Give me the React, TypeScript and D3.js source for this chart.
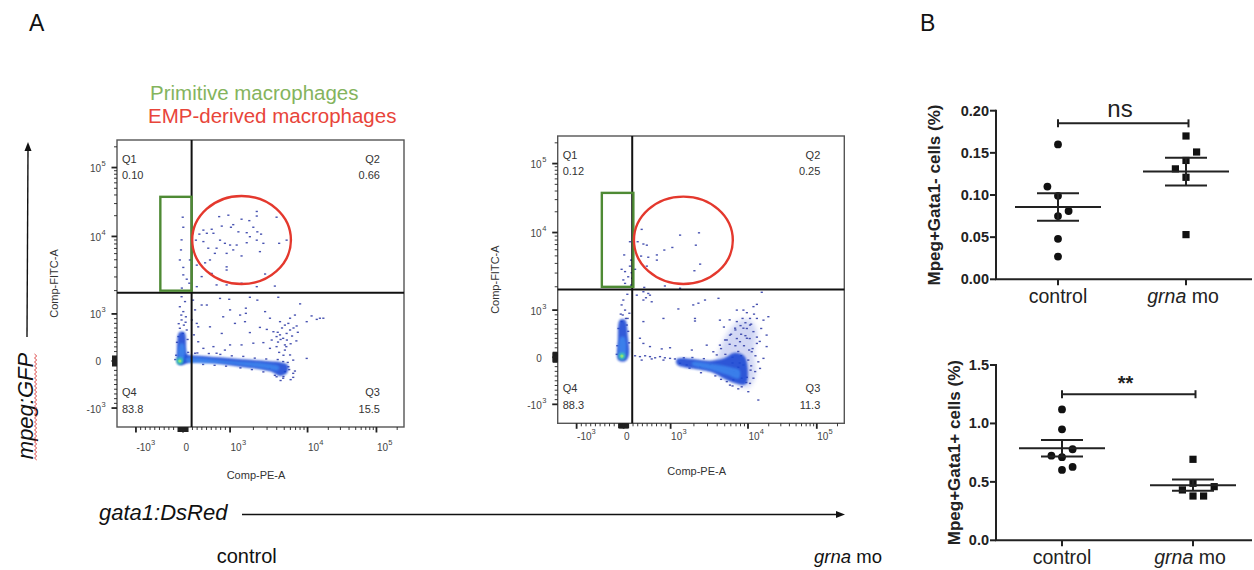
import React from "react";
import * as d3 from "d3";

const W = 1254;
const H = 570;
const SANS = "'Liberation Sans', Arial, Helvetica, sans-serif";

// ---------------- Panel A : flow cytometry (FlowJo display channels 0–100, biexponential) ----------------
const biexLinearValues = [-1000, 1000];
const biexLinearChannels = [6.6, 39.4];
const biexLogValues = [1000, 10000, 100000];
const biexLogChannels = [39.4, 66.4, 90.4];
const majorTickValues = [-1000, 0, 1000, 10000, 100000];
const majorTickBase = ["-10", "0", "10", "10", "10"];
const majorTickExp = ["3", "", "3", "4", "5"];
const quadrantNames = ["Q1", "Q2", "Q3", "Q4"];
const controlQuadrantPct = ["0.10", "0.66", "15.5", "83.8"];
const grnaQuadrantPct = ["0.12", "0.25", "11.3", "88.3"];

// gates in channel units
const controlQuadGate = [26.0, 46.8];
const controlRectGate = [15.1, 47.5, 26.0, 80.2];
const controlEllipseGate = [26.2, 49.8, 60.6, 80.5];
const grnaQuadGate = [26.0, 46.6];
const grnaRectGate = [15.4, 47.5, 26.4, 80.2];
const grnaEllipseGate = [26.6, 48.5, 61.1, 78.9];

// sparse events (channel x, channel y)
const controlEvents: number[][] = [
  [22.9, 73.1], [23.1, 69.6], [22.5, 65.2], [22.3, 61.7], [21.9, 58.2], [23.1, 55.6], [23.1, 53.0], [24.3, 51.5], [25.2, 50.1], [25.4, 58.2],
  [35.6, 73.3], [38.8, 73.8], [48.7, 75.1], [48.7, 73.5], [43.4, 72.4], [46.1, 71.9], [40.5, 70.5], [39.7, 69.6], [36.5, 70.0], [33.0, 68.9],
  [30.1, 68.6], [28.7, 67.2], [31.3, 67.5], [33.6, 67.5], [42.3, 68.0], [45.2, 67.7], [47.5, 69.6], [48.9, 68.0], [50.2, 67.2], [46.3, 66.3],
  [48.7, 65.1], [51.0, 64.0], [55.6, 73.1], [56.5, 64.0], [59.1, 65.1], [27.5, 65.1], [30.1, 64.6], [35.9, 65.1], [37.6, 64.0], [39.4, 63.4],
  [41.7, 63.4], [45.2, 64.2], [34.7, 62.3], [31.8, 62.3], [34.1, 60.5], [38.2, 60.5], [40.5, 61.7], [43.4, 59.6], [49.8, 61.1], [32.4, 58.2],
  [30.7, 57.2], [27.8, 56.4], [38.2, 55.8], [38.2, 54.7], [33.0, 53.5], [29.5, 52.4], [34.7, 49.5], [38.2, 49.5], [43.4, 50.1], [48.7, 48.9],
  [51.6, 53.3], [55.0, 49.1], [27.8, 48.9],
  [35.9, 44.8], [39.1, 44.5], [46.3, 45.2], [48.9, 44.2], [56.2, 45.2], [29.5, 42.5], [31.3, 42.5], [39.4, 40.8], [44.9, 41.4], [44.9, 39.6],
  [42.9, 39.0], [37.0, 38.4], [41.1, 36.1], [44.6, 36.7], [51.6, 40.2], [53.3, 37.9], [56.8, 36.7], [63.8, 42.9], [62.0, 39.0], [60.3, 37.9],
  [59.7, 36.1], [62.6, 35.2], [66.1, 36.7], [69.6, 37.5], [71.9, 37.9], [32.4, 34.9], [27.8, 36.1], [36.5, 32.6], [46.3, 32.9], [49.8, 34.7],
  [52.2, 34.0], [54.5, 33.2], [55.6, 31.5], [56.8, 32.1], [57.9, 30.9], [59.1, 32.6], [53.9, 30.3], [51.0, 29.4], [47.5, 29.2], [43.4, 28.6],
  [39.4, 28.6], [33.6, 28.0], [30.1, 27.4], [28.3, 29.7], [27.2, 25.7], [34.7, 25.7], [37.6, 26.8], [53.3, 27.4], [55.6, 28.0], [58.5, 26.8],
  [60.3, 25.1], [61.4, 23.3], [66.1, 23.9], [57.9, 22.8], [59.7, 21.0], [58.5, 19.3], [55.6, 17.5], [57.9, 17.0], [61.4, 18.7], [61.4, 17.3],
  [53.3, 20.5], [70.7, 37.9], [67.8, 38.7], [57.5, 34.5], [59.2, 30.3], [60.3, 33.8], [56.1, 29.6], [61.0, 31.7], [58.5, 28.6],
  [26.5, 44.2], [27.2, 40.8], [26.1, 37.3], [26.8, 32.1],
  [22.5, 45.4], [23.7, 43.7], [21.9, 41.9], [23.1, 40.2], [24.0, 38.4], [22.5, 37.3], [23.3, 35.5], [21.9, 34.4], [24.3, 33.8], [22.9, 32.6],
  [21.4, 31.5], [28.3, 34.9], [22.6, 48.4],
  [28, 25.8], [32, 25.6], [36, 25.3], [40, 24.8], [44, 24.6], [48, 24.0], [52, 23.7], [30, 21.8], [34, 21.5], [38, 21.2],
  [43, 20.6], [47, 20.0], [51, 19.2], [55, 18.0], [58, 17.6], [60, 20.0], [59.5, 22.5], [56, 23.5], [62, 19.5], [60.5, 16.5],
  [57, 16.2], [20.6, 25], [24.8, 26], [20.9, 29.5], [24.6, 30.5], [21.5, 36], [23.9, 36.5], [22.4, 39], [20.3, 23.5],
  [56.5, 26], [58, 25], [59, 28], [57, 30.5], [60.5, 29], [58.5, 35.5], [61.5, 34.5], [62.5, 30], [63, 33], [56, 33],
];
const grnaEvents: number[][] = [
  [29.3, 67.5], [42.7, 65.5], [49.3, 66.3], [48.2, 62.0], [29.9, 62.4], [31.1, 62.0], [40.0, 61.2], [37.2, 60.3], [34.6, 58.6], [31.6, 57.8],
  [34.6, 56.8], [29.1, 58.2], [49.7, 55.4], [47.7, 53.1], [31.1, 54.7], [37.4, 47.8], [42.7, 47.0], [30.2, 47.3], [27.9, 63.2],
  [25.2, 63.2], [23.2, 58.6], [25.6, 56.8], [22.3, 53.6], [23.5, 52.8], [25.2, 54.7], [25.8, 52.4], [24.6, 51.0], [22.9, 49.9], [26.0, 50.5],
  [23.5, 48.7], [25.6, 48.1], [27.0, 53.6],
  [22.9, 42.9], [22.3, 41.2], [23.5, 39.4], [22.7, 37.7], [23.8, 36.5], [22.3, 35.4], [24.1, 34.2], [24.3, 44.9], [25.0, 38.3],
  [27.0, 23.5], [28.7, 23.2], [30.5, 23.5], [32.2, 23.2], [34.0, 22.8], [35.7, 23.2], [37.4, 22.8], [39.2, 22.6], [40.9, 22.4], [29.3, 22.0],
  [32.8, 22.4], [36.9, 22.0],
  [27.6, 44.6], [29.9, 42.9], [30.8, 43.7], [32.2, 44.6], [32.8, 42.3], [29.9, 35.4], [28.7, 29.6], [29.9, 27.8], [32.2, 26.7], [36.3, 25.9],
  [39.2, 26.3], [36.9, 36.5], [42.1, 39.8], [47.9, 36.5], [47.9, 35.6], [51.4, 42.9], [56.1, 43.5], [47.3, 41.2], [52.0, 27.2], [46.8, 25.5],
  [54.3, 24.9], [56.6, 35.9], [62.5, 39.4], [64.8, 39.4], [68.3, 40.6], [69.5, 41.4], [71.2, 45.6], [67.1, 36.5], [69.5, 36.5], [71.8, 35.9],
  [73.5, 37.1], [72.9, 30.7], [72.9, 26.7], [71.8, 22.6], [70.6, 19.1], [68.3, 15.7], [67.1, 13.9], [64.2, 12.7], [70.0, 8.1], [61.9, 33.1],
  [60.1, 30.7], [58.4, 29.0], [64.8, 33.1], [66.0, 29.6], [68.3, 31.9], [69.5, 27.8], [67.7, 24.9], [70.0, 21.4], [68.9, 18.0], [64.2, 15.7],
  [61.3, 15.1], [62.5, 35.4], [67.1, 34.2], [63.6, 28.4], [56.6, 27.2], [55.5, 23.8], [53.2, 20.3], [49.7, 19.7], [45.0, 20.3], [42.7, 20.9],
  [59.0, 14.5], [60.1, 13.3], [66.5, 11.0], [29.9, 45.8], [31.6, 45.2], [49.1, 41.8],
  [20.8, 27], [24.9, 28], [21.2, 33], [24.6, 32], [22.0, 38], [24.4, 36.5], [20.6, 24],
  [44, 22.8], [47, 22.9], [51, 22.5], [46, 19.2], [50, 17.6], [55, 16.5], [57, 15.3], [61, 13.0], [63, 12.0],
  [57, 26], [58.5, 24], [60, 27.5], [61, 23], [62.5, 29.5], [63, 25], [64, 31], [65, 27], [66, 33], [67, 29.5],
  [66.5, 22], [68, 26], [63.5, 21], [62, 32.5], [65.5, 35], [67.5, 34.5], [64.5, 36.5], [60.5, 31], [59, 29], [61.5, 18],
  [63, 19.5], [66, 16], [67.5, 20], [69, 23.5], [70.5, 28.5], [71, 33], [68.5, 38], [66, 38.5], [58, 33.5], [60, 36],
  [64, 23.5], [65.5, 30.5], [62, 27], [66.8, 25.5], [64.8, 20.3], [69.5, 30], [61, 21], [63.8, 34], [67.3, 18.5], [65.8, 14.2],
];

// dense populations (density outlines, channel units)
const controlDenseOuter: number[][][] = [
  [[21.7, 33], [23.5, 33], [24.1, 27], [24.3, 23], [21.3, 21.9], [20.9, 27]],
  [[21.9, 25.0], [26.6, 24.9], [41.7, 23.8], [53.3, 22.9], [57.1, 22.6], [59.5, 21.6], [59.2, 18.8], [56.8, 17.8], [53.3, 19.4], [41.7, 21.2], [26.6, 22.7], [21.9, 21.7]],
];
const controlDenseCore: number[][][] = [
  [[21.9, 29], [23.2, 29], [23.5, 24], [22.3, 22.6], [21.4, 24]],
  [[24, 24.0], [40, 23.0], [52, 22.1], [56.5, 21.0], [56, 19.7], [52, 20.3], [40, 21.9], [24, 22.9]],
];
const controlHotspot = [21.9, 23.0];
const grnaDenseOuter: number[][][] = [
  [[21.7, 36], [23.5, 36], [24.5, 30], [24.8, 23.5], [23.5, 21.6], [21.1, 22], [21.0, 29]],
  [[41.6, 22.4], [53.2, 21.8], [58, 22.6], [61.5, 24.5], [65, 23.5], [66.3, 19], [65.5, 13.6], [60, 14.6], [53.2, 17.9], [41.6, 20.5]],
];
const grnaDenseCloud: number[][][] = [
  [[56, 24], [59, 31], [63, 35.5], [67, 36], [69.5, 32], [68.5, 25], [69, 17], [66.5, 12.5], [62, 13.5], [58, 17], [55, 20]],
];
const grnaDenseCore: number[][][] = [
  [[21.9, 30], [23.3, 30], [23.7, 24], [22.5, 22.4], [21.4, 23.5]],
  [[47, 21.2], [54, 20.6], [60, 19.6], [63.5, 18.4], [63.2, 15.6], [59, 16.9], [53, 18.7], [47, 20.3]],
];
const grnaHotspot = [22.4, 23.4];

// ---------------- Panel B : dot plots ----------------
const groups = ["control", "grna mo"];
const negControl = [0.160, 0.110, 0.099, 0.081, 0.075, 0.048, 0.027];
const negControlSlot = [0, -1, 0, 1, 0, 0, 0];
const negGrna = [0.170, 0.151, 0.141, 0.131, 0.121, 0.053];
const negGrnaSlot = [0, 1, 0, -1, 0, 0];
const posControl = [1.12, 0.95, 0.779, 0.724, 0.711, 0.628, 0.602];
const posControlSlot = [0, 0, 1, -1, 0, 1, 0];
const posGrna = [0.693, 0.488, 0.459, 0.431, 0.379, 0.379];
const posGrnaSlot = [0, 0, 2, -1, 0, 1];
const negTicks = [0, 0.05, 0.1, 0.15, 0.2];
const posTicks = [0, 0.5, 1.0, 1.5];

// ---------- scales ----------
const linPart = d3.scaleLinear().domain(biexLinearValues).range(biexLinearChannels);
const logPart = d3.scaleLog().domain(biexLogValues).range(biexLogChannels);
const biex = (v: number) => (v <= 1000 ? linPart(v) : logPart(v));

const minorTickValues: number[] = [];
for (const n of [1, 2]) for (let k = 1; k <= 9; k++) minorTickValues.push(k * 10 ** n, -k * 10 ** n);
for (const n of [3, 4]) for (let k = 2; k <= 9; k++) minorTickValues.push(k * 10 ** n);
minorTickValues.push(200000);

type Frame = { x: number; y: number; w: number; h: number };

function FlowPlot(props: {
  id: string; frame: Frame; events: number[][]; outer: number[][][]; cloud: number[][][]; core: number[][][];
  hotspot: number[]; quad: number[]; rect: number[]; ellipse: number[]; pcts: string[]; tickLabelDy: number;
}) {
  const { id, frame, events, outer, cloud, core, hotspot, quad, rect, ellipse, pcts, tickLabelDy } = props;
  const xs = d3.scaleLinear().domain([0, 100]).range([frame.x, frame.x + frame.w]);
  const ys = d3.scaleLinear().domain([0, 100]).range([frame.y + frame.h, frame.y]);
  const shape = d3.line<number[]>().x((d) => xs(d[0])).y((d) => ys(d[1])).curve(d3.curveCatmullRomClosed.alpha(0.5));
  const bottom = frame.y + frame.h;
  const left = frame.x;
  const ex0 = xs(ellipse[0]), ex1 = xs(ellipse[2]), ey0 = ys(ellipse[3]), ey1 = ys(ellipse[1]);
  return (
    <g>
      <defs>
        <clipPath id={`clip-${id}`}>
          <rect x={frame.x} y={frame.y} width={frame.w} height={frame.h} />
        </clipPath>
        <filter id={`soft-${id}`} x="-20%" y="-20%" width="140%" height="140%">
          <feGaussianBlur stdDeviation="0.9" />
        </filter>
        <filter id={`haze-${id}`} x="-20%" y="-20%" width="140%" height="140%">
          <feGaussianBlur stdDeviation="2.5" />
        </filter>
      </defs>
      <g clipPath={`url(#clip-${id})`}>
        {cloud.map((p, i) => (
          <path key={`c${i}`} d={shape(p) || ""} fill="#3550d0" opacity={0.22} filter={`url(#haze-${id})`} />
        ))}
        {events.map((d, i) => (
          <rect key={i} x={xs(d[0]) - 1.1} y={ys(d[1]) - 0.7} width={2.2} height={1.4} fill="#3440a8" opacity={0.9} />
        ))}
        {outer.map((p, i) => (
          <path key={`o${i}`} d={shape(p) || ""} fill="#1f48d4" opacity={0.9} filter={`url(#soft-${id})`} />
        ))}
        {core.map((p, i) => (
          <path key={`k${i}`} d={shape(p) || ""} fill="#3d86ee" opacity={0.85} filter={`url(#soft-${id})`} />
        ))}
        <circle cx={xs(hotspot[0])} cy={ys(hotspot[1])} r={3.4} fill="#3ec9b0" filter={`url(#soft-${id})`} />
        <circle cx={xs(hotspot[0])} cy={ys(hotspot[1])} r={1.6} fill="#8fe07a" />
      </g>
      <rect x={frame.x} y={frame.y} width={frame.w} height={frame.h} fill="none" stroke="#555" strokeWidth={1.4} />
      {/* quadrant gate */}
      <line x1={xs(quad[0])} x2={xs(quad[0])} y1={frame.y} y2={bottom} stroke="#111" strokeWidth={2} />
      <line x1={frame.x} x2={frame.x + frame.w} y1={ys(quad[1])} y2={ys(quad[1])} stroke="#111" strokeWidth={2} />
      {/* population gates */}
      <rect x={xs(rect[0])} y={ys(rect[3])} width={xs(rect[2]) - xs(rect[0])} height={ys(rect[1]) - ys(rect[3])}
        fill="none" stroke="#4e8a34" strokeWidth={2.4} />
      <ellipse cx={(ex0 + ex1) / 2} cy={(ey0 + ey1) / 2} rx={(ex1 - ex0) / 2} ry={(ey1 - ey0) / 2}
        fill="none" stroke="#e4382d" strokeWidth={2.4} />
      {/* ticks */}
      {minorTickValues.map((v, i) => {
        const cx = xs(biex(v)), cy = ys(biex(v));
        const near = Math.abs(v) <= 100;
        const len = near ? 5 : 3;
        const sw = near ? 1.6 : 0.9;
        return (
          <g key={`m${i}`} stroke="#222" strokeWidth={sw}>
            <line x1={cx} x2={cx} y1={bottom} y2={bottom + len} />
            <line x1={left} x2={left - len} y1={cy} y2={cy} />
          </g>
        );
      })}
      {majorTickValues.map((v, i) => {
        const cx = xs(biex(v)), cy = ys(biex(v));
        return (
          <g key={`M${i}`}>
            <line x1={cx} x2={cx} y1={bottom} y2={bottom + 5.5} stroke="#222" strokeWidth={1.8} />
            <line x1={left} x2={left - 5.5} y1={cy} y2={cy} stroke="#222" strokeWidth={1.8} />
            <text x={cx + 0.5} y={bottom + tickLabelDy} fontFamily={SANS} fontSize={10} fill="#444">
              {majorTickBase[i]}
            </text>
            {majorTickExp[i] && (
              <text x={cx + 0.5 + (majorTickBase[i] === "-10" ? 14.5 : 11.3)} y={bottom + tickLabelDy - 6.5}
                fontFamily={SANS} fontSize={7.5} fill="#444">{majorTickExp[i]}</text>
            )}
            <text x={left - 16} y={cy + 4.5} textAnchor="end" fontFamily={SANS} fontSize={10} fill="#444">
              {majorTickBase[i]}
            </text>
            {majorTickExp[i] && (
              <text x={left - 15.5} y={cy - 1.5} fontFamily={SANS} fontSize={7.5} fill="#444">{majorTickExp[i]}</text>
            )}
          </g>
        );
      })}
      {/* quadrant labels */}
      <g fontFamily={SANS} fontSize={11} fill="#333">
        <text x={frame.x + 5} y={frame.y + 22.5}>{quadrantNames[0]}</text>
        <text x={frame.x + 5} y={frame.y + 39}>{pcts[0]}</text>
        <text x={frame.x + frame.w - 24} y={frame.y + 22.5} textAnchor="end">{quadrantNames[1]}</text>
        <text x={frame.x + frame.w - 24} y={frame.y + 39} textAnchor="end">{pcts[1]}</text>
        <text x={frame.x + frame.w - 24} y={bottom - 31.5} textAnchor="end">{quadrantNames[2]}</text>
        <text x={frame.x + frame.w - 24} y={bottom - 14} textAnchor="end">{pcts[2]}</text>
        <text x={frame.x + 5} y={bottom - 31.5}>{quadrantNames[3]}</text>
        <text x={frame.x + 5} y={bottom - 14}>{pcts[3]}</text>
      </g>
      <text x={frame.x + 139} y={bottom + 52} textAnchor="middle" fontFamily={SANS} fontSize={11} fill="#333">Comp-PE-A</text>
      <text transform={`translate(${frame.x - 59},${frame.y + frame.h / 2}) rotate(-90)`} textAnchor="middle"
        fontFamily={SANS} fontSize={11} fill="#333">Comp-FITC-A</text>
    </g>
  );
}

function DotPlot(props: {
  yDomain: number[]; yRange: number[]; xRange: number[]; ticks: number[]; fmt: string;
  ctrl: number[]; ctrlSlot: number[]; grna: number[]; grnaSlot: number[]; title: string; titleX: number;
  bracket: number; sig: string; sigSize: number; sigBold: boolean; sigDy: number; catBaseline: number;
}) {
  const p = props;
  const y = d3.scaleLinear().domain(p.yDomain).range(p.yRange);
  const x = d3.scalePoint<string>().domain(groups).range(p.xRange);
  const axisX = 996;
  const slotW = 10.6;
  const y0 = y(0);
  const f = d3.format(p.fmt);
  const series = [
    { g: groups[0], v: p.ctrl, s: p.ctrlSlot, sq: false },
    { g: groups[1], v: p.grna, s: p.grnaSlot, sq: true },
  ];
  return (
    <g>
      {series.map((sr, si) => {
        const cx = x(sr.g) as number;
        const m = d3.mean(sr.v) as number;
        const sem = (d3.deviation(sr.v) as number) / Math.sqrt(sr.v.length);
        return (
          <g key={si}>
            {sr.v.map((v, i) => {
              const px = cx + sr.s[i] * slotW;
              return sr.sq ? (
                <rect key={i} x={px - 3.6} y={y(v) - 3.6} width={7.2} height={7.2} fill="#111" />
              ) : (
                <circle key={i} cx={px} cy={y(v)} r={3.9} fill="#111" />
              );
            })}
            <g stroke="#222" strokeWidth={2}>
              <line x1={cx - 43} x2={cx + 43} y1={y(m)} y2={y(m)} />
              <line x1={cx - 21} x2={cx + 21} y1={y(m + sem)} y2={y(m + sem)} />
              <line x1={cx - 21} x2={cx + 21} y1={y(m - sem)} y2={y(m - sem)} />
              <line x1={cx} x2={cx} y1={y(m + sem)} y2={y(m - sem)} />
            </g>
          </g>
        );
      })}
      <g stroke="#222" strokeWidth={2} fill="none">
        <line x1={axisX} x2={axisX} y1={y(p.yDomain[1]) - 1} y2={y0} />
        <line x1={axisX - 1} x2={1252} y1={y0} y2={y0} />
        {p.ticks.map((t) => (
          <line key={t} x1={axisX - 6} x2={axisX} y1={y(t)} y2={y(t)} />
        ))}
        {groups.map((g) => (
          <line key={g} x1={x(g)} x2={x(g)} y1={y0} y2={y0 + 6} />
        ))}
        <line x1={x(groups[0])} x2={(x(groups[1]) as number) + 2.5} y1={y(p.bracket)} y2={y(p.bracket)} />
        <line x1={x(groups[0])} x2={x(groups[0])} y1={y(p.bracket) - 4} y2={y(p.bracket) + 4} />
        <line x1={(x(groups[1]) as number) + 2.5} x2={(x(groups[1]) as number) + 2.5} y1={y(p.bracket) - 4} y2={y(p.bracket) + 4} />
      </g>
      {p.ticks.map((t) => (
        <text key={t} x={axisX - 7} y={y(t) + 5} textAnchor="end" fontFamily={SANS} fontWeight="bold" fontSize={14.5} fill="#222">
          {f(t)}
        </text>
      ))}
      <text x={((x(groups[0]) as number) + (x(groups[1]) as number)) / 2 - 2} y={y(p.bracket) + p.sigDy} textAnchor="middle"
        fontFamily={SANS} fontSize={p.sigSize} fontWeight={p.sigBold ? "bold" : "normal"} fill="#222">{p.sig}</text>
      <text transform={`translate(${p.titleX},${(p.yRange[0] + p.yRange[1]) / 2 + 0}) rotate(-90)`} textAnchor="middle"
        fontFamily={SANS} fontWeight="bold" fontSize={17} fill="#222">{p.title}</text>
      <text x={x(groups[0])} y={p.catBaseline} textAnchor="middle" fontFamily={SANS} fontSize={19.5} fill="#222">control</text>
      <text x={(x(groups[1]) as number) - 3} y={p.catBaseline} textAnchor="middle" fontFamily={SANS} fontSize={19.5} fill="#222">
        <tspan fontStyle="italic">grna</tspan>{" mo"}
      </text>
    </g>
  );
}

function squiggle(x: number, y0: number, y1: number): string {
  const pts: [number, number][] = [];
  let k = 0;
  for (let yy = y0; yy <= y1; yy += 2, k++) pts.push([k % 2 === 0 ? x : x + 2.2, yy]);
  return d3.line()(pts) || "";
}

export default function App() {
  const leftFrame: Frame = { x: 117, y: 140, w: 287, h: 287 };
  const rightFrame: Frame = { x: 557.7, y: 136, w: 286.6, h: 287.3 };
  return (
    <svg width={W} height={H} viewBox={`0 0 ${W} ${H}`} style={{ position: "absolute", left: 0, top: 0, background: "#fff" }}>
      <rect width={W} height={H} fill="#fff" />
      <text x={29} y={31} fontFamily={SANS} fontSize={23} fill="#111">A</text>
      <text x={920} y={31} fontFamily={SANS} fontSize={23} fill="#111">B</text>

      <text x={150} y={99.5} fontFamily={SANS} fontSize={20.5} fill="#84b45d">Primitive macrophages</text>
      <text x={148} y={122.5} fontFamily={SANS} fontSize={20.5} fill="#e8453a">EMP-derived macrophages</text>

      {/* vertical arrow + mpeg:GFP */}
      <line x1={28} x2={27} y1={150} y2={337} stroke="#111" strokeWidth={1.4} />
      <path d="M28,142 L24.5,151 L31.5,151 Z" fill="#111" />
      <text transform="translate(33,406) rotate(-90)" textAnchor="middle" fontFamily={SANS} fontStyle="italic" fontSize={22} fill="#111">
        mpeg:GFP
      </text>
      <path d={squiggle(34.5, 354, 460)} fill="none" stroke="#d83030" strokeWidth={0.9} />

      {/* horizontal arrow + gata1:DsRed */}
      <text x={99} y={520} fontFamily={SANS} fontStyle="italic" fontSize={22} fill="#111">gata1:DsRed</text>
      <line x1={242} x2={836} y1={514.5} y2={514.5} stroke="#111" strokeWidth={1.4} />
      <path d="M845,514.5 L836,511 L836,518 Z" fill="#111" />

      <FlowPlot id="ctl" frame={leftFrame} events={controlEvents} outer={controlDenseOuter} cloud={[]} core={controlDenseCore}
        hotspot={controlHotspot} quad={controlQuadGate} rect={controlRectGate} ellipse={controlEllipseGate}
        pcts={controlQuadrantPct} tickLabelDy={24} />
      <FlowPlot id="grn" frame={rightFrame} events={grnaEvents} outer={grnaDenseOuter} cloud={grnaDenseCloud} core={grnaDenseCore}
        hotspot={grnaHotspot} quad={grnaQuadGate} rect={grnaRectGate} ellipse={grnaEllipseGate}
        pcts={grnaQuadrantPct} tickLabelDy={17} />

      <text x={246.7} y={563} textAnchor="middle" fontFamily={SANS} fontSize={20} fill="#111">control</text>
      <text x={848} y={563} textAnchor="middle" fontFamily={SANS} fontSize={18.5} fill="#111">
        <tspan fontStyle="italic">grna</tspan>{" mo"}
      </text>

      <DotPlot yDomain={[0, 0.2]} yRange={[279.3, 110.7]} xRange={[1058, 1186]} ticks={negTicks} fmt=".2f"
        ctrl={negControl} ctrlSlot={negControlSlot} grna={negGrna} grnaSlot={negGrnaSlot}
        title="Mpeg+Gata1- cells (%)" titleX={940} bracket={0.185} sig="ns" sigSize={24} sigBold={false} sigDy={-6.5}
        catBaseline={302.7} />
      <DotPlot yDomain={[0, 1.5]} yRange={[540.3, 365]} xRange={[1062, 1193]} ticks={posTicks} fmt=".1f"
        ctrl={posControl} ctrlSlot={posControlSlot} grna={posGrna} grnaSlot={posGrnaSlot}
        title="Mpeg+Gata1+ cells (%)" titleX={959.5} bracket={1.25} sig="**" sigSize={20} sigBold={true} sigDy={-4.5}
        catBaseline={564} />
    </svg>
  );
}
